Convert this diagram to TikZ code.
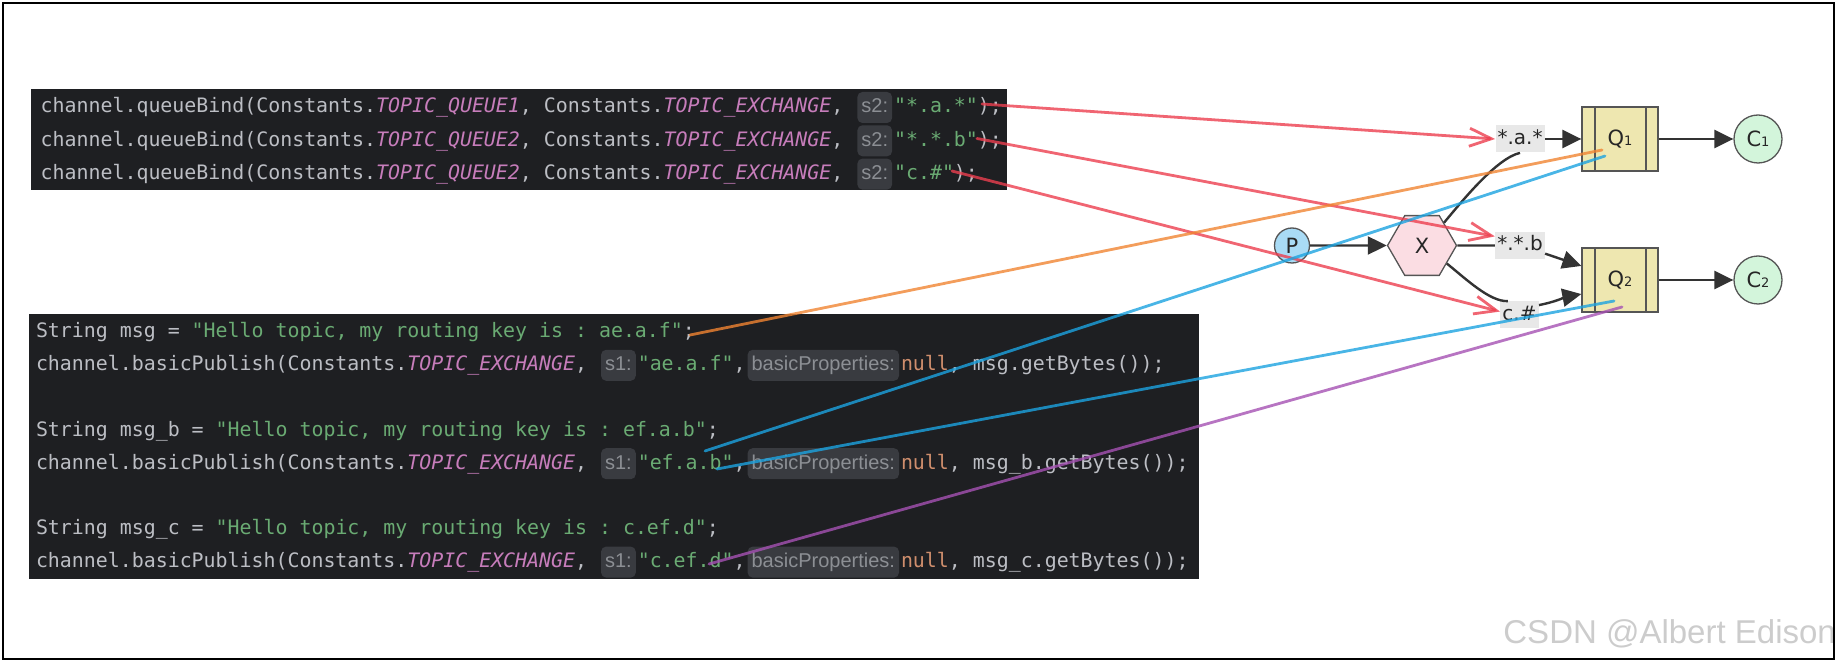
\documentclass[tikz,border=0pt]{standalone}
\usepackage{fontspec}
\setmonofont{DejaVu Sans Mono}
\newfontfamily\hintfam{Liberation Sans}
\newfontfamily\diagfam{DejaVu Sans}
\usetikzlibrary{arrows.meta,shapes.geometric}
\definecolor{codebg}{HTML}{1E1F22}
\definecolor{codefg}{HTML}{BCBEC4}
\definecolor{constc}{HTML}{C77DBB}
\definecolor{strc}{HTML}{6AAB73}
\definecolor{kwc}{HTML}{CF8E6D}
\definecolor{hintbg}{HTML}{393B40}
\definecolor{hintfg}{HTML}{8C8F94}
\definecolor{edgec}{HTML}{333333}
\definecolor{shapeline}{HTML}{555555}
\definecolor{pfill}{HTML}{A9DBF5}
\definecolor{xfill}{HTML}{FBDDE3}
\definecolor{qfill}{HTML}{EEE7B0}
\definecolor{cfill}{HTML}{D3F5DB}
\definecolor{lblbg}{HTML}{E8E8E8}
\definecolor{penred}{HTML}{EC3F4F}
\definecolor{penorange}{HTML}{F08432}
\definecolor{penblue}{HTML}{1CA3E0}
\definecolor{penpurple}{HTML}{A551B3}
\definecolor{wmark}{HTML}{CCCCCC}
\newcommand\jcst[1]{\textcolor{constc}{\itshape #1}}
\newcommand\jstr[1]{\textcolor{strc}{#1}}
\newcommand\jkw[1]{\textcolor{kwc}{#1}}
\newcommand\qsub[1]{{\fontsize{6.5pt}{7pt}\selectfont #1}}
\newcommand\tsp{\ \kern0pt}
\tikzset{
  code/.style={anchor=base west, inner sep=0pt, outer sep=0pt, text=codefg,
    font=\ttfamily\fontsize{9.95pt}{12pt}\selectfont},
  hint/.style={anchor=base west, fill=hintbg, text=hintfg,
    font=\hintfam\fontsize{10pt}{12pt}\selectfont, rounded corners=2.5pt,
    inner xsep=2pt, inner ysep=0pt, outer xsep=1pt, outer ysep=0pt,
    text height=10.5pt, text depth=5pt},
  shp/.style={draw=shapeline, line width=0.65pt, inner sep=0pt,
    font=\diagfam\fontsize{10.5pt}{12pt}\selectfont, text=black!85},
  pnode/.style={shp, circle, fill=pfill, minimum size=17.5pt},
  xnode/.style={shp, regular polygon, regular polygon sides=6, fill=xfill, minimum size=34.5pt},
  qnode/.style={shp, rectangle, fill=qfill, minimum width=38pt, minimum height=32pt,
    path picture={
      \draw[shapeline, line width=0.65pt]
        ([xshift=6.5pt]path picture bounding box.north west) -- ([xshift=6.5pt]path picture bounding box.south west)
        ([xshift=-6pt]path picture bounding box.north east) -- ([xshift=-6pt]path picture bounding box.south east);}},
  cnode/.style={shp, circle, fill=cfill, minimum size=24pt},
  lbl/.style={fill=lblbg, inner xsep=1pt, inner ysep=0pt, text height=9.5pt, text depth=4pt,
    font=\diagfam\fontsize{10pt}{12pt}\selectfont, text=black!85},
  edge/.style={draw=edgec, line width=1.2pt},
  tip/.style={-{Triangle[length=9.5pt,width=9pt]}},
  pen/.style={line width=1.4pt, line cap=round, opacity=0.8},
  barb/.style={-{Straight Barb[length=11pt,width=9pt]}},
}
\begin{document}
\begin{tikzpicture}[x=0.5pt,y=-0.5pt]
\useasboundingbox (0,0) rectangle (1843,663);
% code backgrounds
\fill[codebg] (30.5,89.5) rectangle (1007,190.5);
\fill[codebg] (28.5,314.5) rectangle (1198.5,579);
% top block
\node[code] (t1a) at (40.7,113) {channel.queueBind(Constants.\jcst{TOPIC\_QUEUE1}, Constants.\jcst{TOPIC\_EXCHANGE},\tsp};
\node[hint] (t1h) at (t1a.base east) {s2:};
\node[code] (t1b) at (t1h.base east) {\jstr{"*.a.*"});};
\node[code] (t2a) at (40.7,146.3) {channel.queueBind(Constants.\jcst{TOPIC\_QUEUE2}, Constants.\jcst{TOPIC\_EXCHANGE},\tsp};
\node[hint] (t2h) at (t2a.base east) {s2:};
\node[code] (t2b) at (t2h.base east) {\jstr{"*.*.b"});};
\node[code] (t3a) at (40.7,179.6) {channel.queueBind(Constants.\jcst{TOPIC\_QUEUE2}, Constants.\jcst{TOPIC\_EXCHANGE},\tsp};
\node[hint] (t3h) at (t3a.base east) {s2:};
\node[code] (t3b) at (t3h.base east) {\jstr{"c.\#"});};
% bottom block
\node[code] (m1) at (36,338) {String msg = \jstr{"Hello topic, my routing key is : ae.a.f"};};
\node[code] (m2a) at (36,370.8) {channel.basicPublish(Constants.\jcst{TOPIC\_EXCHANGE},\tsp};
\node[hint] (m2h) at (m2a.base east) {s1:};
\node[code] (m2b) at (m2h.base east) {\jstr{"ae.a.f"},};
\node[hint] (m2k) at (m2b.base east) {basicProperties:};
\node[code] (m2c) at (m2k.base east) {\jkw{null}, msg.getBytes());};
\node[code] (m4) at (36,436.4) {String msg\_b = \jstr{"Hello topic, my routing key is : ef.a.b"};};
\node[code] (m5a) at (36,469.2) {channel.basicPublish(Constants.\jcst{TOPIC\_EXCHANGE},\tsp};
\node[hint] (m5h) at (m5a.base east) {s1:};
\node[code] (m5b) at (m5h.base east) {\jstr{"ef.a.b"},};
\node[hint] (m5k) at (m5b.base east) {basicProperties:};
\node[code] (m5c) at (m5k.base east) {\jkw{null}, msg\_b.getBytes());};
\node[code] (m7) at (36,534.8) {String msg\_c = \jstr{"Hello topic, my routing key is : c.ef.d"};};
\node[code] (m8a) at (36,567.6) {channel.basicPublish(Constants.\jcst{TOPIC\_EXCHANGE},\tsp};
\node[hint] (m8h) at (m8a.base east) {s1:};
\node[code] (m8b) at (m8h.base east) {\jstr{"c.ef.d"},};
\node[hint] (m8k) at (m8b.base east) {basicProperties:};
\node[code] (m8c) at (m8k.base east) {\jkw{null}, msg\_c.getBytes());};
% diagram nodes
\node[pnode] (P) at (1292,245.5) {P};
\node[xnode] (X) at (1422,245.5) {X};
\node[lbl] (l1) at (1520,139) {*.a.*};
\node[lbl] (l2) at (1520,245.5) {*.*.b};
\node[lbl] (l3) at (1519.5,315) {c.\#};
\node[qnode] (Q1) at (1620,139) {Q\qsub{1}};
\node[qnode] (Q2) at (1620,280) {Q\qsub{2}};
\node[cnode] (C1) at (1758,139) {C\qsub{1}};
\node[cnode] (C2) at (1758,280) {C\qsub{2}};
% black connectors
\draw[edge,tip] (P) -- (X);
\draw[edge] (X.46) .. controls (1463,200) and (1497,158) .. (l1.south);
\draw[edge] (X.east) -- (l2.west);
\draw[edge] (X.-36) .. controls (1466,279) and (1490,302) .. (l3.130);
\draw[edge,tip] (l1.east) -- (Q1.west);
\draw[edge,tip] (l2.-18) -- (Q2.160);
\draw[edge,tip] (l3.27) .. controls (1555,302) and (1566,297) .. (Q2.200);
\draw[edge,tip] (Q1) -- (C1);
\draw[edge,tip] (Q2) -- (C2);
% hand-drawn marks
\coordinate (r1s) at (982,104);
\coordinate (r2s) at (977,138.5);
\coordinate (r3s) at (952,171);
\coordinate (os) at (690,335);
\coordinate (oe) at (1602,150);
\coordinate (b1s) at (705,451);
\coordinate (b1e) at (1605,156);
\coordinate (b2s) at (717,469);
\coordinate (b2e) at (1614,301);
\coordinate (ps) at (709,564);
\coordinate (pe) at (1622,307);
\draw[pen,draw=penred,barb] (r1s) -- (l1.west);
\draw[pen,draw=penred,barb] (r2s) -- (l2.160);
\draw[pen,draw=penred,barb] (r3s) -- (l3.170);
\draw[pen,draw=penorange] (os) -- (oe);
\draw[pen,draw=penblue] (b1s) -- (b1e);
\draw[pen,draw=penblue] (b2s) -- (b2e);
\draw[pen,draw=penpurple] (ps) -- (pe);
% watermark and frame
\node[anchor=base west, inner sep=0pt, text=wmark, font=\hintfam\fontsize{16.5pt}{18pt}\selectfont] (wm) at (1503,643) {CSDN @Albert Edison};
\draw[line width=1pt] (3,3) rectangle (1833.5,658.5);
\end{tikzpicture}
\end{document}
